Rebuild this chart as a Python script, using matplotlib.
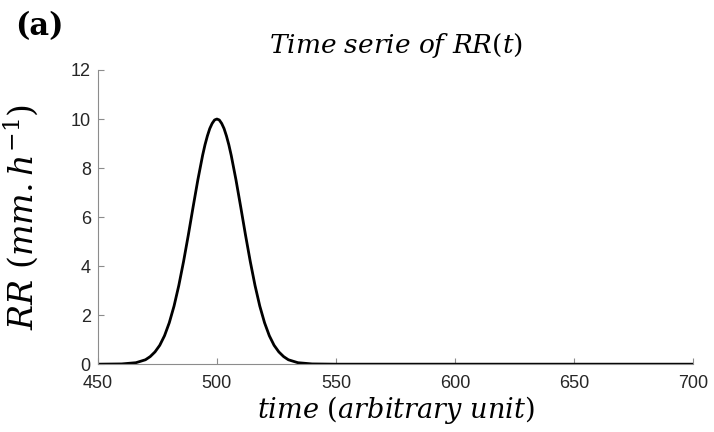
import matplotlib
matplotlib.use("Agg")
import matplotlib.pyplot as plt

plt.rcParams['mathtext.fontset'] = 'dejavuserif'

# values
time_pts = [450, 460, 466, 470, 472, 474, 476, 478, 480, 482, 484, 486, 488, 490,
            492, 494, 495, 496, 497, 498, 499, 500, 501, 502, 503, 504, 505, 506,
            508, 510, 512, 514, 516, 518, 520, 522, 524, 526, 528, 530, 534, 540,
            550, 600, 650, 700]
rr_pts = [0.0, 0.01, 0.06, 0.18, 0.31, 0.50, 0.77, 1.16, 1.69, 2.37, 3.21, 4.19,
          5.27, 6.41, 7.52, 8.52, 8.95, 9.31, 9.61, 9.82, 9.96, 10.0, 9.96, 9.82,
          9.61, 9.31, 8.95, 8.52, 7.52, 6.41, 5.27, 4.19, 3.21, 2.37, 1.69, 1.16,
          0.77, 0.50, 0.31, 0.18, 0.06, 0.01, 0.0, 0.0, 0.0, 0.0]

x_ticks = [450, 500, 550, 600, 650, 700]
y_ticks = [0, 2, 4, 6, 8, 10, 12]

fig = plt.figure(figsize=(7.14, 4.32), dpi=100)
ax = fig.add_axes([0.137, 0.157, 0.834, 0.681])

ax.plot(time_pts, rr_pts, color='black', linewidth=2.0)

ax.set_xlim(450, 700)
ax.set_ylim(0, 12)
ax.set_xticks(x_ticks)
ax.set_yticks(y_ticks)

for s in ['top', 'right']:
    ax.spines[s].set_visible(False)
for s in ['left', 'bottom']:
    ax.spines[s].set_color('0.55')
    ax.spines[s].set_linewidth(0.8)

ax.tick_params(direction='in', length=4, color='0.55', width=0.8,
               labelsize=13, labelcolor='0.15')
ax.tick_params(axis='x', pad=8)
ax.tick_params(axis='y', pad=5)
for lbl in ax.get_xticklabels() + ax.get_yticklabels():
    lbl.set_fontfamily('Liberation Sans')

ax.set_title(r'$Time\ serie\ of\ RR(t)$', fontsize=19, pad=12)
ax.set_xlabel(r'$time\ (arbitrary\ unit)$', fontsize=19.5, labelpad=1)
ax.set_ylabel(r'$RR\ (mm.h^{-1})$', fontsize=24, labelpad=22)

fig.text(0.021, 0.975, '(a)', fontsize=22, fontweight='bold',
         family='DejaVu Serif', va='top', ha='left')

fig.savefig('out.png', dpi=100)
